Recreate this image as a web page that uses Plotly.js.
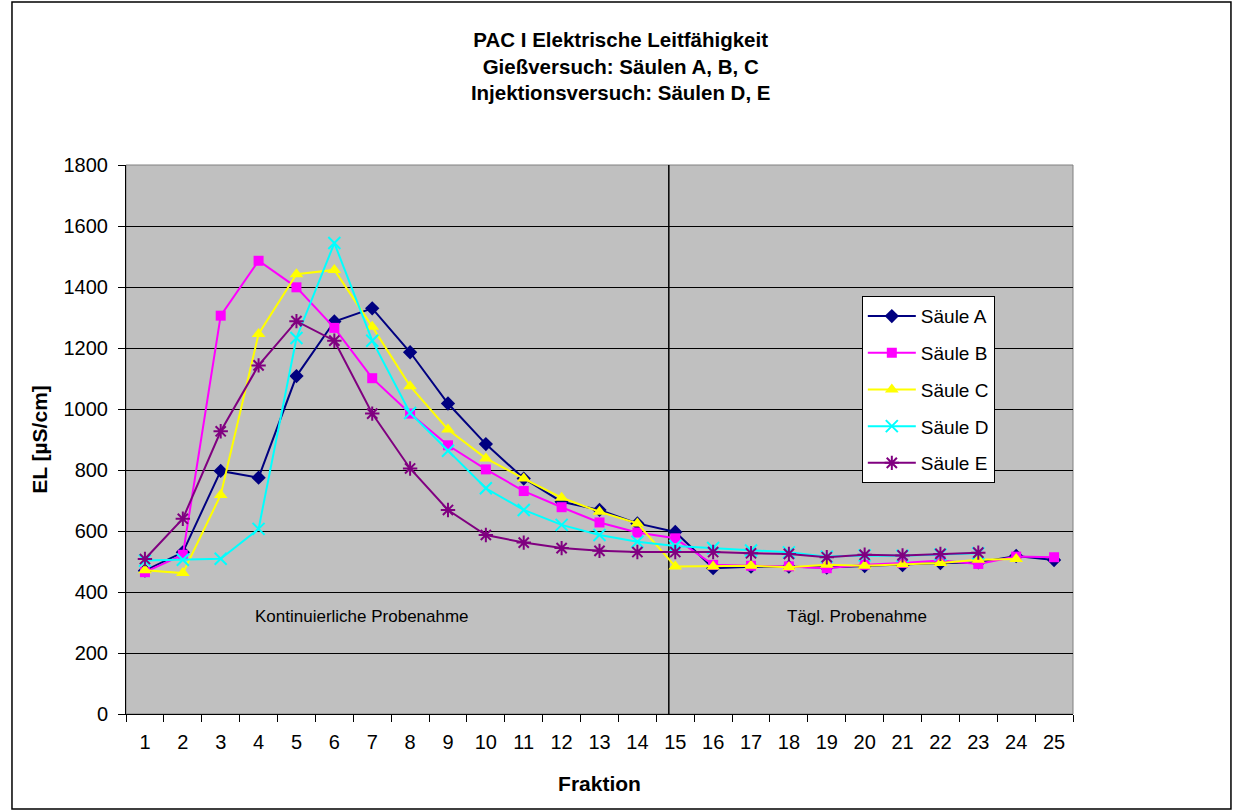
<!DOCTYPE html>
<html>
<head>
<meta charset="utf-8">
<script src="https://cdn.plot.ly/plotly-3.0.1.min.js"></script>
<style>
  html, body { margin: 0; padding: 0; background: #ffffff; }
  #chart { width: 1234px; height: 811px; }
</style>
</head>
<body>
<div id="chart"></div>
<script>
// Fraktionen 1..25
const fraktionen = ['1','2','3','4','5','6','7','8','9','10','11','12','13','14','15','16','17','18','19','20','21','22','23','24','25'];

// Elektrische Leitfähigkeit [µS/cm] je Säule
const saeuleA = [470, 530, 797, 775, 1108, 1287, 1330, 1186, 1018, 885, 772, 696, 669, 625, 597, 478, 483, 483, 480, 485, 488, 495, 497, 518, 505];
const saeuleB = [465, 522, 1306, 1486, 1399, 1266, 1101, 985, 881, 802, 731, 678, 628, 595, 576, 489, 486, 484, 478, 489, 495, 503, 492, 516, 514];
const saeuleC = [471, 462, 718, 1246, 1442, 1456, 1270, 1075, 933, 838, 772, 709, 663, 625, 484, 484, 486, 481, 489, 486, 491, 495, 506, 508];
const saeuleD = [503, 506, 509, 607, 1233, 1544, 1224, 987, 863, 740, 669, 620, 587, 565, 551, 544, 536, 530, 516, 520, 519, 523, 527];
const saeuleE = [508, 640, 927, 1143, 1288, 1224, 985, 805, 669, 587, 562, 544, 535, 531, 531, 531, 527, 525, 514, 522, 520, 525, 529];

const serienNamen = ['Säule A', 'Säule B', 'Säule C', 'Säule D', 'Säule E'];

const FONT = 'Liberation Sans, Arial, sans-serif';

function serie(name, werte, farbe, symbol, groesse, offen) {
  return {
    type: 'scatter',
    mode: 'lines+markers',
    name: name,
    legendgroup: name,
    x: fraktionen.slice(0, werte.length),
    y: werte,
    line: { color: farbe, width: 2 },
    marker: offen
      ? { symbol: symbol, size: groesse, color: farbe, line: { color: farbe, width: 2 } }
      : { symbol: symbol, size: groesse, color: farbe, line: { width: 0 } },
    cliponaxis: false
  };
}

const daten = [
  serie(serienNamen[0], saeuleA, '#000080', 'diamond', 11, false),
  serie(serienNamen[1], saeuleB, '#FF00FF', 'square', 10, false),
  serie(serienNamen[2], saeuleC, '#FFFF00', 'triangle-up', 12, false),
  serie(serienNamen[3], saeuleD, '#00FFFF', 'x-thin-open', 12, true),
  serie(serienNamen[4], saeuleE, '#800080', 'asterisk-open', 12, true)
];

const layout = {
  width: 1234,
  height: 811,
  margin: { l: 126, r: 161, t: 165, b: 97, pad: 0 },
  paper_bgcolor: '#ffffff',
  plot_bgcolor: '#C0C0C0',
  font: { family: FONT, color: '#000000', size: 20 },
  showlegend: true,
  title: {
    text: 'PAC I Elektrische Leitfähigkeit<br>Gießversuch: Säulen A, B, C<br>Injektionsversuch: Säulen D, E',
    font: { family: FONT, size: 20.5, weight: 'bold', color: '#000000' },
    xref: 'container', x: 0.503, xanchor: 'center',
    yref: 'container', y: 0.942, yanchor: 'top'
  },
  xaxis: {
    type: 'category',
    categoryorder: 'array',
    categoryarray: fraktionen,
    range: [-0.5, 24.5],
    tickson: 'boundaries',
    ticks: 'outside',
    ticklen: 7,
    tickwidth: 1,
    tickcolor: '#000000',
    ticklabelstandoff: 10,
    showline: true,
    linecolor: '#000000',
    linewidth: 1,
    showgrid: false,
    zeroline: false,
    tickfont: { family: FONT, size: 20 },
    title: { text: 'Fraktion', font: { family: FONT, size: 21, weight: 'bold' }, standoff: 24 },
    automargin: false,
    fixedrange: true
  },
  yaxis: {
    range: [0, 1800],
    dtick: 200,
    tick0: 0,
    ticks: 'outside',
    ticklen: 7,
    tickwidth: 1,
    tickcolor: '#000000',
    ticklabelstandoff: 6,
    showline: true,
    linecolor: '#000000',
    linewidth: 1,
    showgrid: true,
    gridcolor: '#000000',
    gridwidth: 1,
    zeroline: false,
    tickfont: { family: FONT, size: 20 },
    title: { text: 'EL [µS/cm]', font: { family: FONT, size: 21, weight: 'bold' }, standoff: 10 },
    automargin: false,
    fixedrange: true
  },
  legend: {
    x: 0.777, xanchor: 'left', xref: 'paper',
    y: 0.761, yanchor: 'top', yref: 'paper',
    bgcolor: '#ffffff',
    bordercolor: '#000000',
    borderwidth: 1,
    font: { family: FONT, size: 19 },
    tracegroupgap: 9,
    itemwidth: 48,
    entrywidth: 125,
    entrywidthmode: 'pixels'
  },
  shapes: [
    // Rahmen der Zeichenfläche
    { type: 'rect', xref: 'paper', yref: 'paper', x0: 0, x1: 1, y0: 0, y1: 1,
      line: { color: '#808080', width: 1 }, fillcolor: 'rgba(0,0,0,0)', layer: 'between' },
    // Trennlinie zwischen kontinuierlicher und täglicher Probenahme
    { type: 'line', xref: 'x', yref: 'paper', x0: 13.83, x1: 13.83, y0: 0, y1: 1,
      line: { color: '#000000', width: 1.5 }, layer: 'between' },
    // Diagrammrahmen
    { type: 'rect', xref: 'paper', yref: 'paper', x0: -0.1204, x1: 1.1668, y0: -0.173, y1: 1.2969,
      line: { color: '#000000', width: 1.5 }, fillcolor: 'rgba(0,0,0,0)' }
  ],
  annotations: [
    { text: 'Kontinuierliche Probenahme', xref: 'x', yref: 'y', x: 5.73, y: 319,
      showarrow: false, font: { family: FONT, size: 17 } },
    { text: 'Tägl. Probenahme', xref: 'x', yref: 'y', x: 18.8, y: 319,
      showarrow: false, font: { family: FONT, size: 17 } }
  ]
};

Plotly.newPlot('chart', daten, layout, { displayModeBar: false, staticPlot: true });
</script>
</body>
</html>
